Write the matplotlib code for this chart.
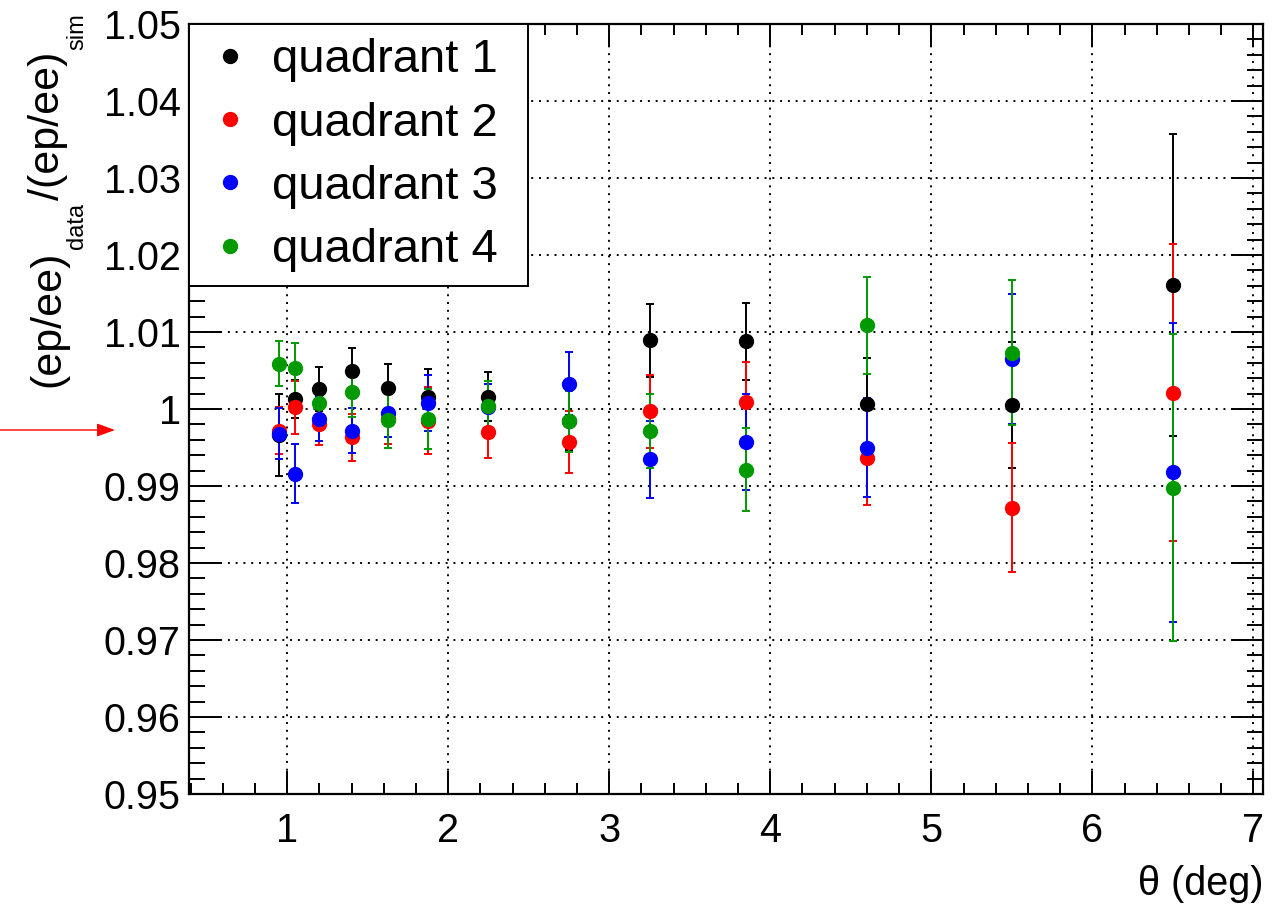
import matplotlib
matplotlib.use("Agg")
import matplotlib.pyplot as plt
from matplotlib.lines import Line2D
from matplotlib.ticker import MultipleLocator

plt.rcParams["font.family"] = ["Liberation Sans", "DejaVu Sans"]

# ---------------------------------------------------------------------------
# data
# ---------------------------------------------------------------------------
theta = [0.95, 1.05, 1.2, 1.4, 1.625, 1.875, 2.25, 2.75, 3.25, 3.85, 4.6, 5.5, 6.5]

q1_val = [0.9966, 1.0013, 1.0026, 1.0049, 1.0027, 1.0015, 1.0016, 0.9985, 1.0089, 1.0088, 1.0006, 1.0005, 1.0161]
q1_err = [0.0053, 0.0025, 0.0028, 0.0030, 0.0032, 0.0037, 0.0032, 0.0038, 0.0048, 0.0050, 0.0060, 0.0082, 0.0196]

q2_val = [0.9972, 1.0002, 0.9980, 0.9963, 0.9987, 0.9985, 0.9970, 0.9957, 0.9997, 1.0009, 0.9937, 0.9872, 1.0021]
q2_err = [0.0030, 0.0034, 0.0027, 0.0030, 0.0033, 0.0043, 0.0034, 0.0040, 0.0047, 0.0052, 0.0062, 0.0084, 0.0193]

q3_val = [0.9968, 0.9916, 0.9987, 0.9972, 0.9995, 1.0008, 1.0003, 1.0033, 0.9935, 0.9957, 0.9950, 1.0065, 0.9918]
q3_err = [0.0033, 0.0038, 0.0028, 0.0029, 0.0032, 0.0036, 0.0030, 0.0041, 0.0050, 0.0062, 0.0064, 0.0085, 0.0194]

q4_val = [1.0059, 1.0053, 1.0008, 1.0022, 0.9986, 0.9987, 1.0004, 0.9984, 0.9972, 0.9921, 1.0109, 1.0073, 0.9898]
q4_err = [0.0029, 0.0033, 0.0025, 0.0033, 0.0036, 0.0039, 0.0032, 0.0040, 0.0048, 0.0054, 0.0063, 0.0094, 0.0199]

labels = ["quadrant 1", "quadrant 2", "quadrant 3", "quadrant 4"]
colors = ["black", "#ff0000", "#0000ff", "#009a00"]

series = [(q1_val, q1_err), (q2_val, q2_err), (q3_val, q3_err), (q4_val, q4_err)]

# ---------------------------------------------------------------------------
# figure
# ---------------------------------------------------------------------------
W, H = 1281, 908
fig = plt.figure(figsize=(W / 100, H / 100), dpi=100)
ax = fig.add_axes([189 / W, 1 - 794 / H, (1263 - 189) / W, (794 - 24) / H])

for (val, err), c in zip(series, colors):
    ax.errorbar(theta, val, yerr=err, fmt="o", color=c, ms=10, mec=c,
                elinewidth=1.4, capsize=2.9, capthick=1.4, zorder=3)

ax.set_xlim(0.39, 7.06)
ax.set_ylim(0.95, 1.05)
ax.xaxis.set_major_locator(MultipleLocator(1))
ax.xaxis.set_minor_locator(MultipleLocator(0.2))
ax.yaxis.set_minor_locator(MultipleLocator(0.002))
ax.set_yticks([0.95, 0.96, 0.97, 0.98, 0.99, 1.0, 1.01, 1.02, 1.03, 1.04, 1.05])
ax.set_yticklabels(["0.95", "0.96", "0.97", "0.98", "0.99", "1", "1.01",
                    "1.02", "1.03", "1.04", "1.05"])

ax.grid(True, which="major", color="black", lw=1.4, linestyle=(0, (1, 3)), zorder=0)
ax.set_axisbelow(True)

ax.tick_params(axis="both", which="both", direction="in", top=True, right=True,
               width=1.4, labelsize=28.5)
ax.tick_params(axis="y", which="major", length=23, pad=6)
ax.tick_params(axis="y", which="minor", length=11.5)
ax.tick_params(axis="x", which="major", length=16.5, pad=13)
ax.tick_params(axis="x", which="minor", length=8)
for s in ax.spines.values():
    s.set_linewidth(1.6)

ax.set_xlabel("θ (deg)", fontsize=28.5)
ax.xaxis.set_label_coords(1.0, -0.092)
ax.xaxis.label.set_ha("right")
ax.xaxis.label.set_va("top")

handles = [Line2D([], [], ls="none", marker="o", ms=10, mec=c, color=c) for c in colors]
leg = ax.legend(handles, labels, loc="upper left", bbox_to_anchor=(0, 0, 339 / 1074, 1),
                mode="expand", borderaxespad=0, fontsize=34, frameon=True,
                fancybox=False, edgecolor="black", framealpha=1,
                borderpad=0.3, labelspacing=0.41, handlelength=1.12, handletextpad=0.34)
leg.get_frame().set_linewidth(1.4)
leg.set_zorder(5)

# y label built ROOT-style: big text, small low subscripts, stacked upwards
ylab_parts = [("(ep/ee)", 31, 59), ("data", 17, 83), ("/(ep/ee)", 31, 59), ("sim", 17, 83)]
renderer = fig.canvas.get_renderer()
ypos = H - 387
for txt, size, xb in ylab_parts:
    t = fig.text(xb / W, ypos / H, txt, fontsize=size, rotation=90,
                 rotation_mode="anchor", ha="left", va="baseline")
    bb = t.get_window_extent(renderer)
    ypos = bb.y1 + 2

# red arrow pointing at the y axis
ax.annotate("", xy=(115 / W, 1 - 430 / H), xytext=(0, 1 - 430 / H),
            xycoords="figure fraction", textcoords="figure fraction",
            arrowprops=dict(arrowstyle="-|>,head_length=0.55,head_width=0.2",
                            color="red", lw=1, mutation_scale=20, shrinkA=0, shrinkB=0),
            annotation_clip=False)

fig.savefig("out.png", dpi=100)
